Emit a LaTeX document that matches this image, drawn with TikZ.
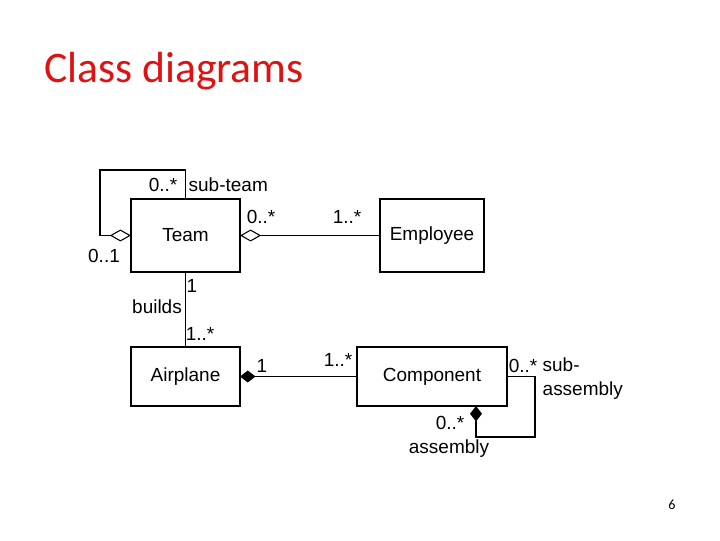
\documentclass[tikz,border=0pt]{standalone}
\usepackage{fontspec}
\setmainfont{Carlito}
\newfontfamily\umlfont{Liberation Sans}
\usepackage{xcolor}
\definecolor{titleRed}{RGB}{222, 18, 18}
\definecolor{umlInk}{RGB}{0, 0, 0}
\usepackage{tikz}
\usetikzlibrary{
    arrows.meta,
    positioning
}

\begin{document}
\begin{tikzpicture}[
    x=0.025cm, y=-0.025cm,
    classBox/.style={
        rectangle, draw=umlInk, line width=1pt,
        font=\umlfont\fontsize{13.5}{15}\selectfont,
        inner sep=0pt, outer sep=0pt,
        minimum height=1.825cm
    },
    assocLine/.style={
        draw=umlInk, line width=0.75pt
    },
    aggrLine/.style={
        assocLine, {Diamond[open, length=15pt, width=8.5pt, line width=0.75pt]}-
    },
    compLine/.style={
        assocLine, {Diamond[length=11pt, width=8.5pt]}-
    },
    multLabel/.style={
        font=\umlfont\fontsize{13.5}{17}\selectfont, text=umlInk, inner sep=1pt
    }
]
    \useasboundingbox (0,0) rectangle (720,540);

    % Title
    \node[anchor=base west, text=titleRed, font=\fontsize{31}{36}\selectfont, inner sep=0pt]
        (title) at (44,82) {Class diagrams};

    % Classes
    \node[classBox, minimum width=2.725cm] (team) at (185.5,235.5) {Team};
    \node[classBox, minimum width=2.6cm] (emp) at (432,235.5) {Employee};
    \node[classBox, minimum width=2.725cm, minimum height=1.475cm] (air) at (185.5,376.5) {Airplane};
    \node[classBox, minimum width=3.75cm, minimum height=1.475cm] (comp) at (432,376.5) {Component};

    % Loop corners
    \coordinate (teamLoop) at (100,170);
    \coordinate (compLoop) at (535,437);
    \coordinate (asmEnd) at (476,406);

    % Associations
    \draw[aggrLine] (team.west) -| (teamLoop) -| (team.north);
    \draw[aggrLine] (team.east) -- (emp.west);
    \draw[assocLine] (team.south) -- (air.north);
    \draw[compLine] (air.east) -- (comp.west);
    \draw[compLine] (asmEnd) |- (compLoop) |- (comp.east);

    % Multiplicities and roles
    \node[multLabel] (mSubTeam) at (163,185) {0..*};
    \node[multLabel, anchor=west] (rSubTeam) at (187,185) {sub-team};
    \node[multLabel] (mParent) at (104,256) {0..1};
    \node[multLabel] (mTeamEmp) at (261,217) {0..*};
    \node[multLabel] (mEmpTeam) at (347,217) {1..*};
    \node[multLabel] (mBuildsA) at (192,286) {1};
    \node[multLabel] (rBuilds) at (157,307) {builds};
    \node[multLabel] (mBuildsB) at (200,334) {1..*};
    \node[multLabel] (mAirComp) at (262,366) {1};
    \node[multLabel] (mCompAir) at (338,360) {1..*};
    \node[multLabel] (mSubAsm) at (523,366) {0..*};
    \node[multLabel, anchor=north west, align=left] (rSubAsm) at (541,356) {sub-\\assembly};
    \node[multLabel] (mAsm) at (450,423) {0..*};
    \node[multLabel] (rAsm) at (449,449) {assembly};

    % Page number
    \node[font=\fontsize{10}{12}\selectfont] (pageNo) at (672,505) {6};

\end{tikzpicture}
\end{document}
